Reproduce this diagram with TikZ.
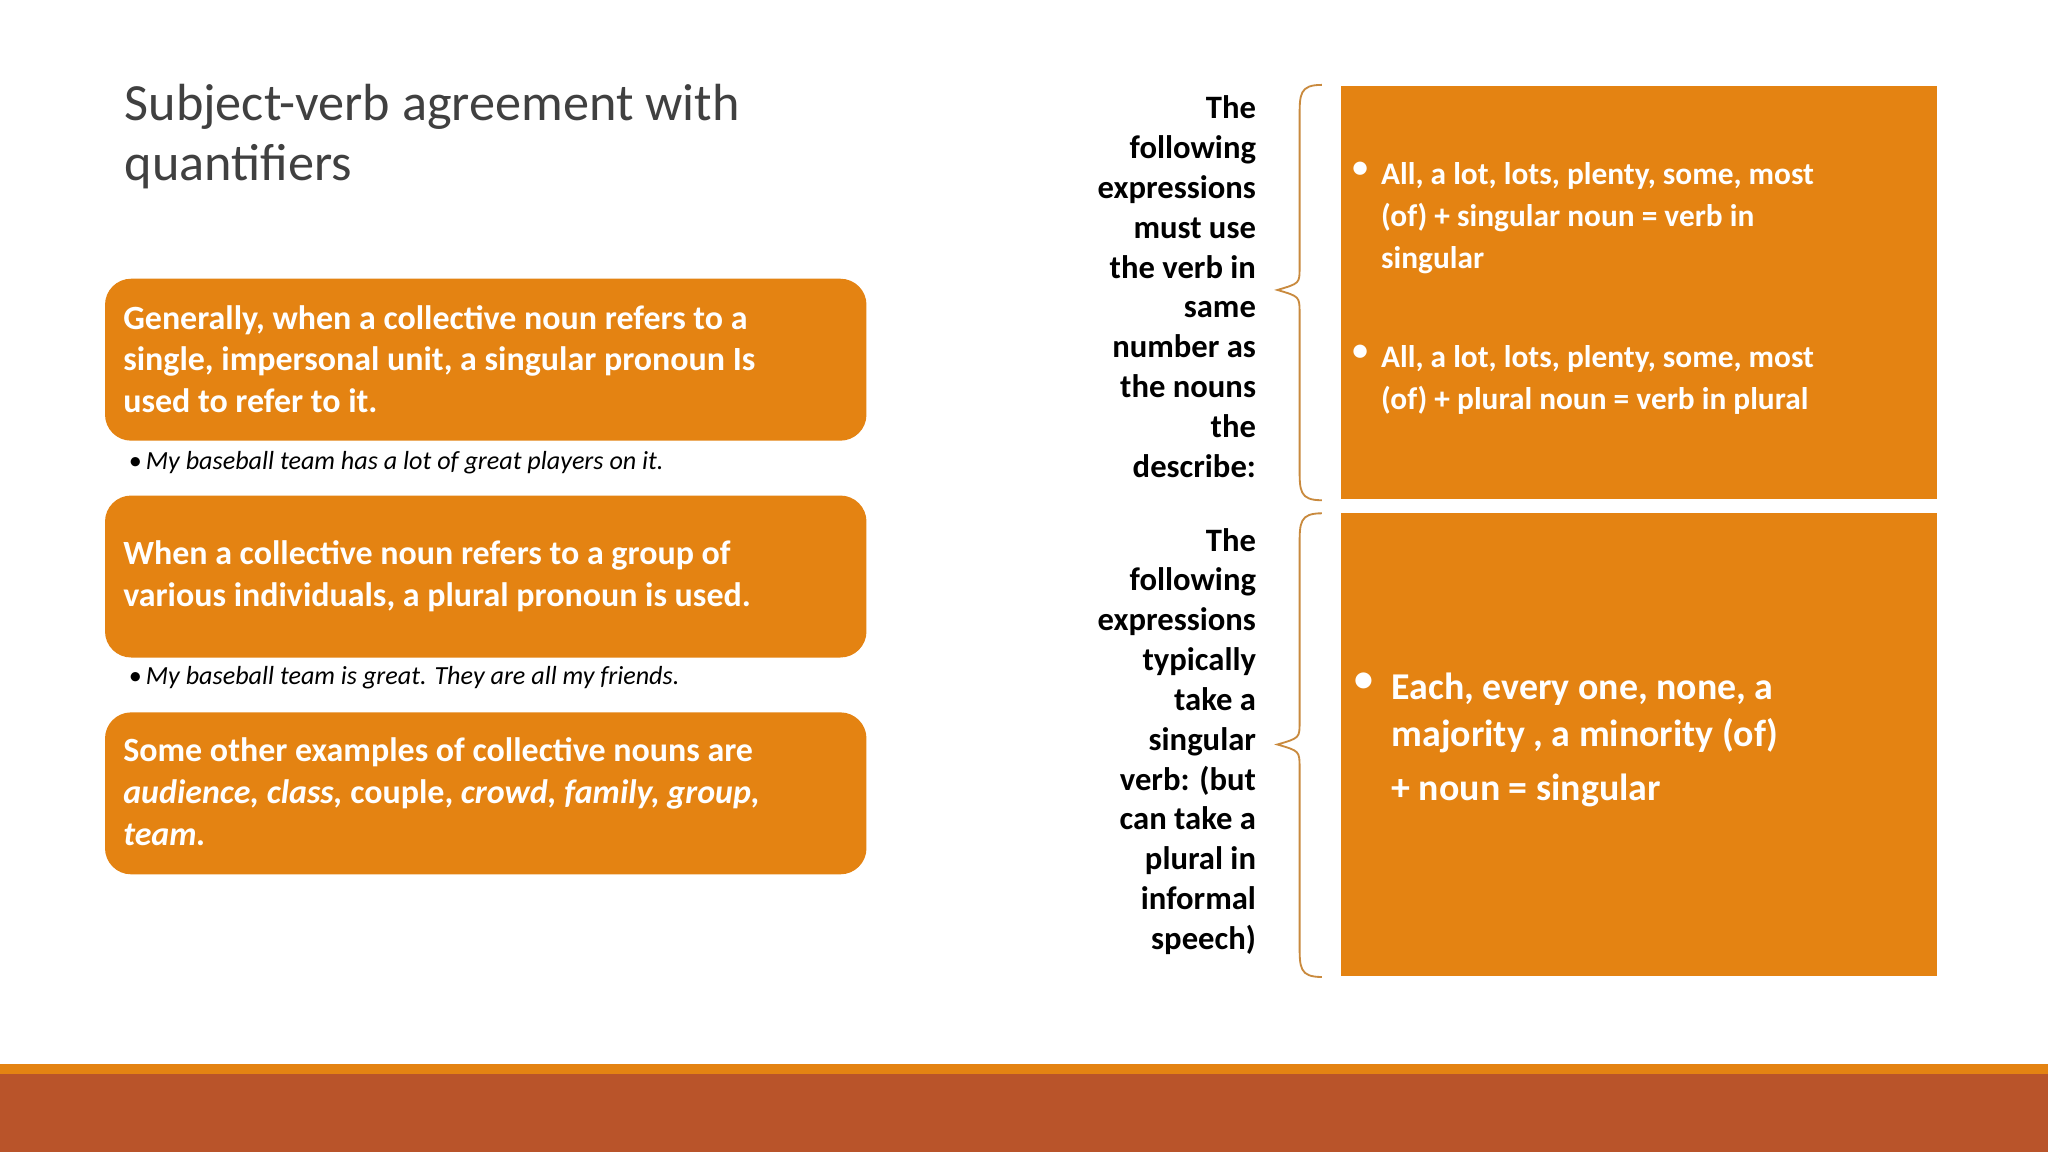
\documentclass[tikz,border=0pt]{standalone}
\usepackage{fontspec}
\setmainfont{Carlito}
\definecolor{org}{HTML}{E48312}
\definecolor{rust}{HTML}{B9542A}
\definecolor{brc}{HTML}{C98A3E}
\definecolor{ttl}{HTML}{404040}
\begin{document}
\begin{tikzpicture}[x=0.5pt,y=-0.5pt,
  lbox/.style={fill=org,rounded corners=10pt,minimum width=291.5pt,minimum height=62pt,inner sep=0pt,anchor=north west},
  ltext/.style={anchor=west,align=left,text=white,font=\fontsize{13}{16}\selectfont\bfseries,inner sep=0pt},
  ex/.style={anchor=west,inner sep=0pt,font=\fontsize{10}{12}\selectfont\itshape},
  rcol/.style={anchor=north east,align=right,inner sep=0pt,font=\fontsize{12.5}{15.25}\selectfont\bfseries},
  rt/.style={anchor=north west,align=left,inner sep=0pt,text=white,font=\fontsize{12}{16}\selectfont\bfseries},
  br/.style={draw=brc,line width=0.7pt}]
\useasboundingbox (0,0) rectangle (1568,882);
\fill[white] (0,0) rectangle (1568,882);
\fill[org] (0,815) rectangle (1568,822);
\fill[rust] (0,822) rectangle (1568,882);
\node[anchor=north west,align=left,inner sep=0pt,text=ttl,font=\fontsize{20}{23}\selectfont] (title) at (95,64) {Subject-verb agreement with\\quantifiers};
% left boxes
\node[lbox] (b1) at (80,213) {};
\node[ltext] (t1) at (94,275) {Generally, when a collective noun refers to a\\single, impersonal unit, a singular pronoun Is\\used to refer to it.};
\node[ex] (e1) at (98,354) {\textbullet\,My baseball team has a lot of great players on it.};
\node[lbox] (b2) at (80,379) {};
\node[ltext] (t2) at (94,441) {When a collective noun refers to a group of\\various individuals, a plural pronoun is used.};
\node[ex] (e2) at (98,519) {\textbullet\,My baseball team is great. They are all my friends.};
\node[lbox] (b3) at (80,545) {};
\node[ltext] (t3) at (94,606) {Some other examples of collective nouns are\\\textit{audience, class,} couple, \textit{crowd, family, group,}\\\textit{team.}};
% right column
\node[rcol] (r1) at (962,73) {The\\following\\expressions\\must use\\the verb in\\same\\number as\\the nouns\\the\\describe:};
\node[rcol] (r2) at (962,404) {The\\following\\expressions\\typically\\take a\\singular\\verb: (but\\can take a\\plural in\\informal\\speech)};
\draw[br] (1012,65) .. controls (995,65) and (995,72) .. (995,90) -- (995,205) .. controls (995,217) .. (978,222) .. controls (995,227) .. (995,240) -- (995,358) .. controls (995,376) and (995,383) .. (1012,383);
\draw[br] (1012,393) .. controls (995,393) and (995,400) .. (995,418) -- (995,553) .. controls (995,565) .. (978,570) .. controls (995,575) .. (995,588) -- (995,723) .. controls (995,741) and (995,748) .. (1012,748);
% right boxes
\fill[org] (1027,66) rectangle (1483,382);
\fill[org] (1027,393) rectangle (1483,747);
\node[rt] (bu1) at (1035,124) {\textbullet};
\node[rt] (rb1) at (1057,124) {All, a lot, lots, plenty, some, most\\(of) + singular noun = verb in\\singular};
\node[rt] (bu2) at (1035,264) {\textbullet};
\node[rt] (rb2) at (1057,264) {All, a lot, lots, plenty, some, most\\(of) + plural noun = verb in plural};
\node[rt,font=\fontsize{14.5}{18}\selectfont\bfseries] (bu3) at (1037,515) {\textbullet};
\node[rt,font=\fontsize{14.5}{18}\selectfont\bfseries] (rb3) at (1065,515) {Each, every one, none, a\\majority , a minority (of)};
\node[rt,font=\fontsize{14.5}{18}\selectfont\bfseries] (rb4) at (1065,592) {+ noun = singular};
\end{tikzpicture}
\end{document}
